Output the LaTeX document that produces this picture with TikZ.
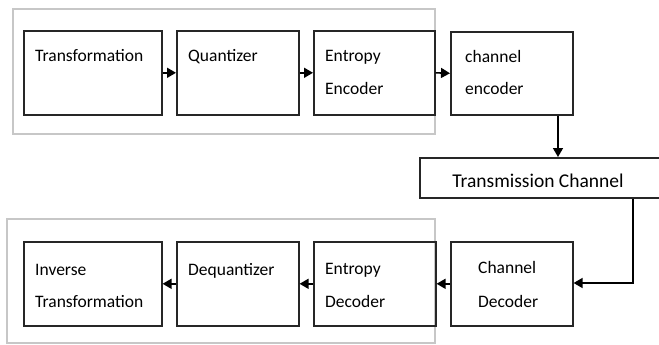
\documentclass[tikz,border=0pt]{standalone}
\usepackage{fontspec}
\setmainfont{Carlito}
\usetikzlibrary{arrows.meta}
\begin{document}
\begin{tikzpicture}[x=1pt,y=-1pt,
  blk/.style={draw=black!85,line width=1.6pt,anchor=north west,inner sep=0pt},
  frame/.style={draw=black!22,line width=1.6pt},
  txt/.style={anchor=base west,inner sep=0pt,font=\fontsize{17.5}{21}\selectfont},
  conn/.style={draw=black,line width=1.6pt,-{Triangle[length=9pt,width=10pt]}}]
\useasboundingbox (0,0) rectangle (659,345);
\clip (0,0) rectangle (659,345);
\fill[white] (0,0) rectangle (659,345);
% group frames
\draw[frame] (13,9) rectangle (435,134);
\draw[frame] (7,219) rectangle (435,343);
% top row
\node[blk,minimum width=138pt,minimum height=84pt] (tr) at (23,30) {};
\node[blk,minimum width=122pt,minimum height=84pt] (qu) at (176,30) {};
\node[blk,minimum width=121pt,minimum height=84pt] (ee) at (313,30) {};
\node[blk,minimum width=122pt,minimum height=83pt] (ce) at (450,31) {};
% channel
\node[blk,minimum width=250pt,minimum height=40pt] (tc) at (419,157) {};
% bottom row
\node[blk,minimum width=138pt,minimum height=84pt] (it) at (23,241) {};
\node[blk,minimum width=122pt,minimum height=84pt] (dq) at (176,241) {};
\node[blk,minimum width=122pt,minimum height=84pt] (ed) at (313,241) {};
\node[blk,minimum width=122pt,minimum height=84pt] (cd) at (450,241) {};
% texts
\node[txt] (trt) at (35,62) {Transformation};
\node[txt] (qut) at (188,62) {Quantizer};
\node[txt] (eet1) at (325,62) {Entropy};
\node[txt] (eet2) at (325,95) {Encoder};
\node[txt] (cet1) at (465,63) {channel};
\node[txt] (cet2) at (465,95) {encoder};
\node[txt,anchor=base,font=\fontsize{19.5}{23}\selectfont] (tct) at (538,187) {Transmission Channel};
\node[txt] (itt1) at (35,275) {Inverse};
\node[txt] (itt2) at (35,307) {Transformation};
\node[txt] (dqt) at (188,275) {Dequantizer};
\node[txt] (edt1) at (325,274) {Entropy};
\node[txt] (edt2) at (325,307) {Decoder};
\node[txt] (cdt1) at (478,273) {Channel};
\node[txt] (cdt2) at (478,307) {Decoder};
% connectors
\draw[conn] (tr.east) -- (qu.west);
\draw[conn] (qu.east) -- (ee.west);
\draw[conn] (ee.east) -- (ce.west);
\draw[conn] (ce.south -| 558,0) -- (tc.north -| 558,0);
\coordinate (bend) at (633,283);
\draw[conn] (tc.south -| bend) -- (bend) -- (cd.east |- bend);
\draw[conn] (cd.west) -- (ed.east);
\draw[conn] (ed.west) -- (dq.east);
\draw[conn] (dq.west) -- (it.east);
\end{tikzpicture}
\end{document}
